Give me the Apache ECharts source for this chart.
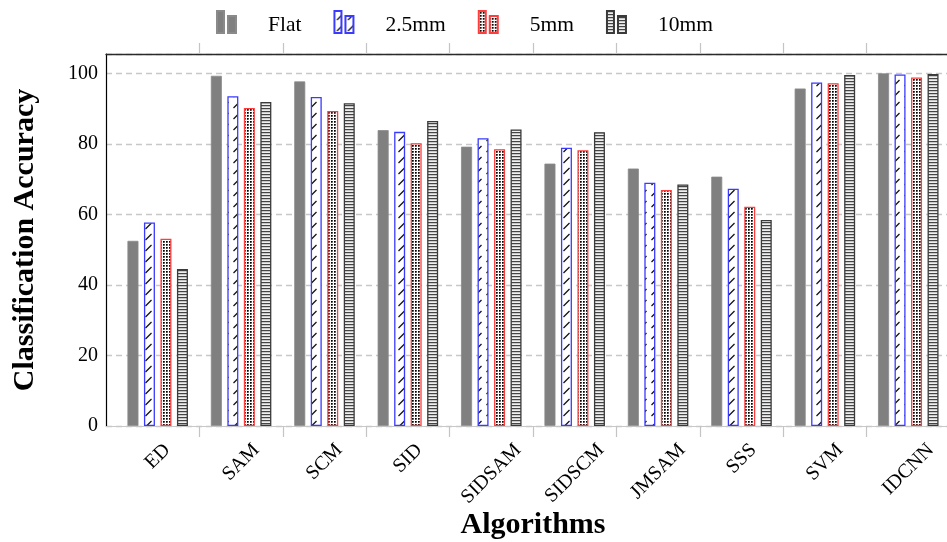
<!DOCTYPE html>
<html>
<head>
<meta charset="utf-8">
<script src="https://cdn.jsdelivr.net/npm/echarts@6/dist/echarts.min.js"></script>
<style>
  html, body { margin: 0; padding: 0; background: #fff; }
  #chart { width: 947px; height: 542px; }
</style>
</head>
<body>
<div id="chart"></div>
<script>
// Classification accuracy of each algorithm for four surface conditions
const categories = ['ED', 'SAM', 'SCM', 'SID', 'SIDSAM', 'SIDSCM', 'JMSAM', 'SSS', 'SVM', 'IDCNN'];
const flat   = [52.5, 99.3, 97.7, 83.9, 79.2, 74.4, 73.0, 70.7, 95.7, 100.0];
const mm2_5  = [57.7, 93.5, 93.3, 83.4, 81.6, 78.9, 69.0, 67.3, 97.4, 99.7];
const mm5    = [53.1, 90.2, 89.3, 80.2, 78.5, 78.2, 66.9, 62.2, 97.2, 98.8];
const mm10   = [44.5, 91.9, 91.5, 86.5, 84.1, 83.3, 68.5, 58.4, 99.5, 99.8];
const seriesNames = ['Flat', '2.5mm', '5mm', '10mm'];
const yTicks = [0, 20, 40, 60, 80, 100];

const SERIF = '"Liberation Serif", "Times New Roman", serif';
const Y_MAX = 105.48;

// --- fill patterns -------------------------------------------------------
function makeTile(w, h, draw) {
  const c = document.createElement('canvas');
  c.width = w; c.height = h;
  const g = c.getContext('2d');
  g.fillStyle = '#fff';
  g.fillRect(0, 0, w, h);
  draw(g);
  return { image: c, repeat: 'repeat' };
}
// short "north east" strokes
const hatch = makeTile(11, 11, g => {
  g.strokeStyle = '#111';
  g.lineWidth = 1.3;
  g.beginPath();
  g.moveTo(2.5, 9);
  g.lineTo(8.5, 3);
  g.stroke();
});
// dense dot grid
const dots = makeTile(3, 3, g => {
  g.fillStyle = '#000';
  g.fillRect(1, 1, 1, 1);
  g.fillStyle = 'rgba(0,0,0,0.75)';
  g.fillRect(2, 1, 1, 1);
  g.fillRect(1, 2, 1, 1);
  g.fillStyle = 'rgba(0,0,0,0.5)';
  g.fillRect(2, 2, 1, 1);
});
// horizontal rules
const hlines = makeTile(2, 3, g => {
  g.fillStyle = '#444';
  g.fillRect(0, 0, 2, 1);
  g.fillStyle = '#c8c8c8';
  g.fillRect(0, 1, 2, 1);
  g.fillStyle = '#efefef';
  g.fillRect(0, 2, 2, 1);
});

// --- rotated category labels: each label is centred under its band -----
const measureCtx = document.createElement('canvas').getContext('2d');
measureCtx.font = '20px ' + SERIF;
const labelRich = {};
categories.forEach((name, i) => {
  const w = measureCtx.measureText(name).width;
  labelRich['l' + i] = {
    fontFamily: SERIF,
    fontSize: 20,
    color: '#000',
    align: 'center',
    padding: [w / 2, w / 2, 0, 0]
  };
});

const legendIcon = 'path://M0,0H7V22H0Z M11,5H19V22H11Z';

const chart = echarts.init(document.getElementById('chart'), null, { renderer: 'canvas' });

const barCommon = {
  type: 'bar',
  xAxisIndex: 0,
  yAxisIndex: 0,
  barWidth: 11,
  barGap: '50%'
};

const tickStyle = {
  show: true,
  length: 11,
  interval: (i) => i !== 0,
  lineStyle: { color: '#c4c4c4', width: 1.2 }
};

chart.setOption({
  animation: false,
  backgroundColor: '#fff',
  legend: {
    top: 5,
    left: 211,
    itemWidth: 19,
    itemHeight: 22,
    itemGap: 32,
    icon: legendIcon,
    data: seriesNames,
    formatter: (name) => '{t|' + name + '}',
    textStyle: {
      fontFamily: SERIF,
      fontSize: 21.5,
      color: '#000',
      padding: [0, 0, 0, 27],
      rich: {
        t: { fontFamily: SERIF, fontSize: 21.5, color: '#000', padding: [6, 0, 0, 0] }
      }
    }
  },
  grid: [
    { left: 116, top: 54, width: 834, height: 372, outerBoundsMode: 'none' },
    { left: 106, top: 54, width: 870, height: 372, outerBoundsMode: 'none' }
  ],
  xAxis: [
    {
      type: 'category',
      gridIndex: 0,
      position: 'bottom',
      data: categories,
      name: 'Algorithms',
      nameLocation: 'middle',
      nameGap: 84,
      nameMoveOverlap: false,
      nameTextStyle: { fontFamily: SERIF, fontSize: 30, fontWeight: 'bold', color: '#000' },
      axisLine: { show: false },
      axisTick: tickStyle,
      axisLabel: {
        interval: 0,
        rotate: 45,
        margin: 21,
        align: 'center',
        verticalAlign: 'middle',
        formatter: (v, i) => '{l' + i + '|' + v + '}',
        rich: labelRich
      },
      splitLine: { show: false }
    },
    {
      type: 'category',
      gridIndex: 0,
      position: 'top',
      data: categories,
      axisLine: { show: false },
      axisTick: tickStyle,
      axisLabel: { show: false },
      splitLine: { show: false }
    },
    {
      type: 'value',
      gridIndex: 1,
      position: 'bottom',
      min: 0,
      max: 1,
      axisLine: { show: true, onZero: false, lineStyle: { color: '#c8c8c8', width: 1.2 } },
      axisTick: { show: false },
      axisLabel: { show: false },
      splitLine: { show: false }
    },
    {
      type: 'value',
      gridIndex: 1,
      position: 'top',
      min: 0,
      max: 1,
      axisLine: { show: true, onZero: false, lineStyle: { color: '#2a2a2a', width: 1.3 } },
      axisTick: { show: false },
      axisLabel: { show: false },
      splitLine: { show: false }
    }
  ],
  yAxis: [
    {
      type: 'value',
      gridIndex: 0,
      min: 0,
      max: Y_MAX,
      show: false
    },
    {
      type: 'value',
      gridIndex: 1,
      min: 0,
      max: Y_MAX,
      interval: 20,
      name: 'Classification Accuracy',
      nameLocation: 'middle',
      nameGap: 66,
      nameTextStyle: { fontFamily: SERIF, fontSize: 30, fontWeight: 'bold', color: '#000' },
      axisLine: { show: true, onZero: false, lineStyle: { color: '#000', width: 1.2 } },
      axisTick: { show: false },
      axisLabel: {
        margin: 8,
        showMaxLabel: false,
        fontFamily: SERIF,
        fontSize: 20,
        color: '#000',
        formatter: (v) => (yTicks.indexOf(v) >= 0 ? String(v) : '')
      },
      splitLine: {
        show: true,
        lineStyle: { color: '#c8c8c8', width: 1.4, type: [6, 4] }
      }
    }
  ],
  series: [
    Object.assign({}, barCommon, {
      name: seriesNames[0],
      data: flat,
      itemStyle: { color: '#808080', borderColor: '#8a8a8a', borderWidth: 0.8 }
    }),
    Object.assign({}, barCommon, {
      name: seriesNames[1],
      data: mm2_5,
      itemStyle: { color: hatch, borderColor: '#3b3bff', borderWidth: 1.3 }
    }),
    Object.assign({}, barCommon, {
      name: seriesNames[2],
      data: mm5,
      itemStyle: { color: dots, borderColor: '#ff3d3d', borderWidth: 1.3 }
    }),
    Object.assign({}, barCommon, {
      name: seriesNames[3],
      data: mm10,
      itemStyle: { color: hlines, borderColor: '#3a3a3a', borderWidth: 1.3 }
    })
  ]
});
</script>
</body>
</html>
